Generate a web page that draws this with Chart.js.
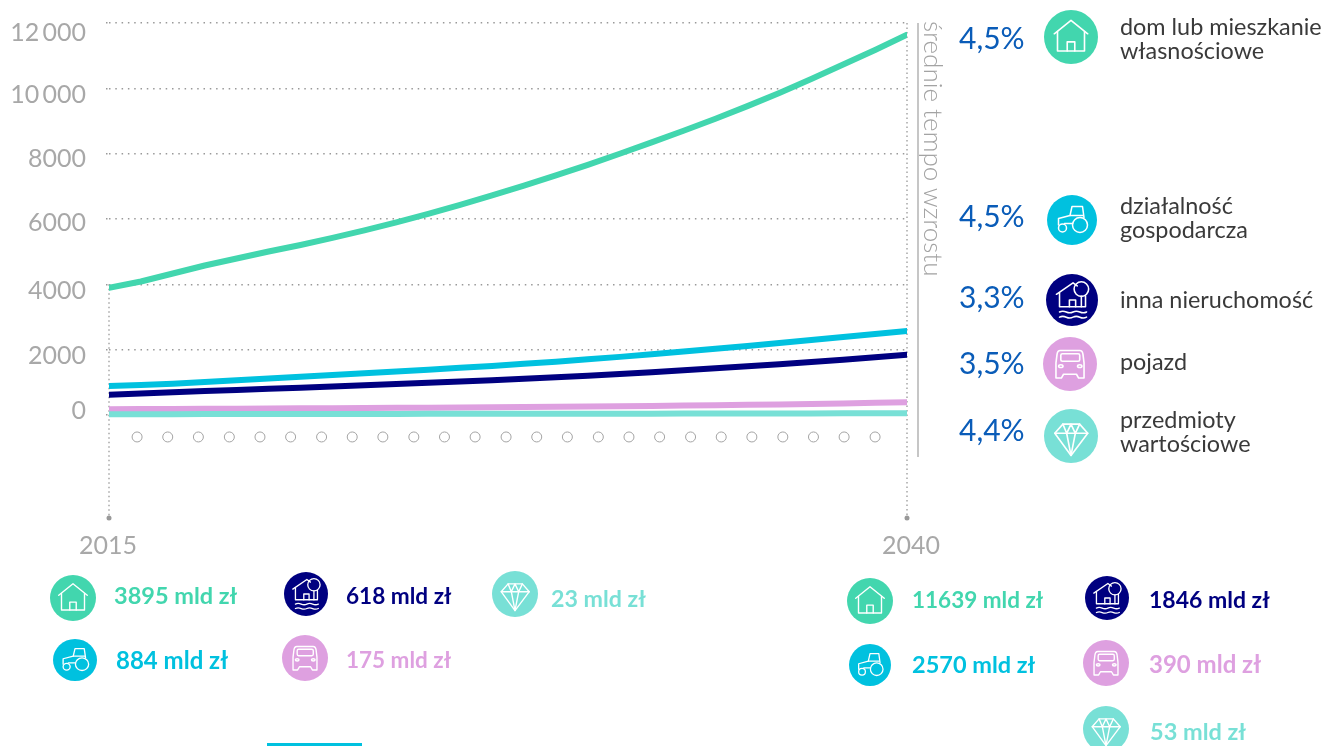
<!DOCTYPE html>
<html lang="pl">
<head>
<meta charset="utf-8">
<title>Aktywa</title>
<script src="https://cdn.jsdelivr.net/npm/chart.js@4"></script>
<style>
html, body { margin: 0; padding: 0; background: #fff; }
#page { position: relative; width: 1323px; height: 746px; overflow: hidden; font-family: Lato, sans-serif; }
#chart { position: absolute; left: 0; top: 0; }
.txt { position: absolute; white-space: nowrap; transform: translateY(-50%); }
.ico { position: absolute; }
.ico * { fill: none; stroke: #fff; stroke-width: 3; stroke-linejoin: round; stroke-linecap: round; }
.ico .disc { stroke: none; }
#bar { position: absolute; left: 917px; top: 23px; width: 2px; height: 434px; background: #c6c6c6; }
#tempo { position: absolute; left: 919px; top: 21px; writing-mode: vertical-rl; font-size: 26px; font-weight: 300; color: #a3a3a3; line-height: 30px; white-space: nowrap; }
#accent { position: absolute; left: 267px; top: 743px; width: 95px; height: 3px; background: #00c1df; }
</style>
</head>
<body>
<div id="page">
  <canvas id="chart" width="1323" height="746"></canvas>
  <div id="bar"></div>
  <div id="tempo">średnie tempo wzrostu</div>
  <div id="accent"></div>
</div>
<script>
var years = [2015,2016,2017,2018,2019,2020,2021,2022,2023,2024,2025,2026,2027,2028,2029,2030,2031,2032,2033,2034,2035,2036,2037,2038,2039,2040];
var domValues = [3895,4085,4331,4576,4790,5005,5204,5421,5650,5895,6156,6431,6719,7022,7334,7659,7996,8345,8700,9070,9455,9860,10285,10729,11173,11639];
var dzialalnoscValues = [884,915,958,1010,1063,1118,1172,1222,1274,1328,1384,1442,1502,1566,1632,1702,1778,1858,1940,2025,2112,2201,2292,2385,2477,2570];
var nieruchomoscValues = [618,655,692,730,766,800,835,872,909,947,986,1026,1066,1108,1154,1203,1255,1310,1368,1428,1490,1555,1620,1690,1765,1846];
var pojazdValues = [175,180,184,188,193,197,202,207,212,218,223,229,235,242,250,258,267,276,286,297,309,322,336,351,370,390];
var przedmiotyValues = [23,24,25,26,27,28,29,30,31,32,33,34,35,36,37,38,39,40,41,42,44,45,47,49,51,53];
var yTicks = [0,2000,4000,6000,8000,10000,12000];
var yTickLabels = ['0','2000','4000','6000','8000','10\u2009000','12\u2009000'];
var xTicks = [2015,2040];
var markerYears = [2015.88,2016.84,2017.80,2018.77,2019.73,2020.69,2021.66,2022.62,2023.58,2024.55,2025.51,2026.47,2027.44,2028.40,2029.36,2030.33,2031.29,2032.25,2033.22,2034.18,2035.14,2036.11,2037.07,2038.03,2039.00];
var markerLevel = -674;
var axisBottom = -3155;

var colors = { dom: '#42d6ae', dzial: '#00c1df', nier: '#000080', poj: '#dea0e0', przed: '#78e0d6' };

// tick labels in the original sit a little off their grid lines
var yLabelNudge = [-4,6,7,4,5,7,10];
var xLabelNudge = [-1,4];

function series(values, color, order) {
    return {
        data: values.map(function (v, i) { return { x: years[i], y: v }; }),
        borderColor: color,
        borderWidth: 6,
        borderCapStyle: 'round',
        borderJoinStyle: 'round',
        pointRadius: 0,
        tension: 0,
        order: order
    };
}

function rule(points) {
    return {
        data: points,
        borderColor: '#a6a6a6',
        backgroundColor: '#999',
        borderWidth: 1.5,
        borderDash: [1.5, 3],
        pointRadius: [0, 2.5],
        pointBorderWidth: 0,
        clip: false,
        order: 10
    };
}

var tickLabelsPlugin = {
    id: 'tickLabels',
    afterDraw: function (chart) {
        var ctx = chart.ctx, y = chart.scales.y, x = chart.scales.x;
        ctx.save();
        ctx.font = '400 25px Lato';
        ctx.fillStyle = '#a8a8a8';
        ctx.textBaseline = 'middle';
        ctx.textAlign = 'right';
        yTicks.forEach(function (v, i) {
            ctx.fillText(yTickLabels[i], 86, y.getPixelForValue(v) + yLabelNudge[i]);
        });
        ctx.textAlign = 'center';
        xTicks.forEach(function (v, i) {
            ctx.fillText(String(v), x.getPixelForValue(v) + xLabelNudge[i], y.bottom + 28);
        });
        ctx.restore();
    }
};

new Chart(document.getElementById('chart'), {
    type: 'line',
    data: {
        datasets: [
            series(przedmiotyValues, colors.przed, 0),
            series(pojazdValues, colors.poj, 1),
            series(nieruchomoscValues, colors.nier, 2),
            series(dzialalnoscValues, colors.dzial, 3),
            series(domValues, colors.dom, 4),
            rule([{ x: 2015, y: 4000 }, { x: 2015, y: axisBottom }]),
            rule([{ x: 2040, y: 12000 }, { x: 2040, y: axisBottom }]),
            {
                data: markerYears.map(function (x) { return { x: x, y: markerLevel }; }),
                showLine: false,
                pointRadius: 5,
                pointBorderWidth: 1,
                pointBorderColor: '#a3a3a3',
                pointBackgroundColor: '#fff',
                order: 5
            }
        ]
    },
    options: {
        responsive: false,
        animation: false,
        layout: { padding: { left: 109, right: 416, top: 23, bottom: 228 } },
        plugins: { legend: { display: false }, tooltip: { enabled: false } },
        scales: {
            x: {
                type: 'linear',
                min: 2015,
                max: 2040,
                border: { display: false },
                grid: { display: false },
                afterFit: function (s) { s.height = 0; },
                ticks: { display: false }
            },
            y: {
                min: axisBottom,
                max: 12000,
                border: { display: false, dash: [1.5, 4.8] },
                afterBuildTicks: function (s) { s.ticks = yTicks.map(function (v) { return { value: v }; }); },
                afterFit: function (s) { s.width = 0; },
                grid: {
                    color: '#999',
                    lineWidth: 1.5,
                    tickLength: 3,
                    tickColor: '#999',
                    tickWidth: 1.5,
                    tickBorderDash: [1.5, 4.8]
                },
                ticks: { display: false }
            }
        }
    },
    plugins: [tickLabelsPlugin]
});

// white line glyphs on the round badges
var glyphs = {
    dom: '<path d="M19,44 L50,19 L81,44"/><path d="M25,40 V76 H75 V40"/><path d="M43,76 V59 H57 V76"/>',
    dzial: '<circle cx="66" cy="60" r="15"/><circle cx="31" cy="66" r="8"/><path d="M23,60 V47 L46,41 L50,23 H71 L74,45"/><path d="M46,41 H72"/><path d="M35,57 H51"/>',
    nier: '<path d="M20,39 L52,17 L60,23"/><path d="M26,36 V63 H76 V42"/><path d="M45,63 V50 H57 V63"/><circle cx="68" cy="29" r="14"/><path d="M68,43 V63"/><path d="M26,73 q6,-3 13,0 t13,0 t13,0 t13,0"/><path d="M26,83 q6,-3 13,0 t13,0 t13,0 t13,0"/>',
    poj: '<path d="M32,25 H68 Q73,25 74,32 L76,48 V76 H66 L62,69 H38 L34,76 H24 V48 L26,32 Q27,25 32,25 Z"/><rect x="33" y="31" width="35" height="14" rx="3"/><ellipse cx="33" cy="54" rx="4" ry="2.5"/><ellipse cx="68" cy="54" rx="4" ry="2.5"/>',
    przed: '<path d="M35,28 H66 L81,45 L50,86 L20,45 Z"/><path d="M20,45 H81"/><path d="M35,28 L42,45 L50,28 L58,45 L66,28"/><path d="M42,45 L50,86 L58,45"/>'
};

var page = document.getElementById('page');

function badge(kind, cx, cy, rx, ry) {
    var html = '<svg class="ico" viewBox="0 0 100 100" preserveAspectRatio="none" style="left:' + (cx - rx) + 'px;top:' + (cy - ry) + 'px;width:' + (2 * rx) + 'px;height:' + (2 * ry) + 'px">' +
        '<circle class="disc" cx="50" cy="50" r="50" style="fill:' + colors[kind] + '"/>' + glyphs[kind] + '</svg>';
    page.insertAdjacentHTML('beforeend', html);
}

function text(str, x, y, size, color, weight) {
    var el = document.createElement('div');
    el.className = 'txt';
    el.textContent = str;
    el.style.cssText = 'left:' + x + 'px;top:' + y + 'px;font-size:' + size + 'px;color:' + color + ';font-weight:' + (weight || 400);
    page.appendChild(el);
}

// right hand legend
var rates = ['4,5%','4,5%','3,3%','3,5%','4,4%'];
var rateRows = [37,215,296,362,429];
rates.forEach(function (r, i) { text(r, 959, rateRows[i], 30, '#0a5cb8'); });

badge('dom', 1071, 37, 27, 27);
badge('dzial', 1072, 220, 25, 25);
badge('nier', 1072, 300, 26, 26);
badge('poj', 1070, 364, 27, 27);
badge('przed', 1071, 436, 27, 27);

var legendColor = '#3a3a3a';
text('dom lub mieszkanie', 1120, 26, 23.4, legendColor);
text('własnościowe', 1120, 50, 23.4, legendColor);
text('działalność', 1120, 205, 23.4, legendColor);
text('gospodarcza', 1120, 229, 23.4, legendColor);
text('inna nieruchomość', 1120, 299, 23.4, legendColor);
text('pojazd', 1120, 361, 23.4, legendColor);
text('przedmioty', 1120, 419, 23.4, legendColor);
text('wartościowe', 1120, 443, 23.4, legendColor);

// 2015 totals
badge('dom', 73, 598, 23, 23);
badge('nier', 306, 594, 22, 22);
badge('przed', 515, 594, 23, 23);
badge('dzial', 75, 660, 22, 21);
badge('poj', 305, 658, 23, 23);
text('3895 mld zł', 114, 595, 23.5, colors.dom, 700);
text('618 mld zł', 346, 595, 22.6, colors.nier, 700);
text('23 mld zł', 551, 598, 23.2, colors.przed, 700);
text('884 mld zł', 116, 659, 24, colors.dzial, 700);
text('175 mld zł', 346, 659, 22.5, colors.poj, 700);

// 2040 totals
badge('dom', 870, 601, 23, 23);
badge('nier', 1107, 598, 22, 22);
badge('dzial', 870, 665, 21, 21);
badge('poj', 1106, 663, 23, 23);
badge('przed', 1106, 729, 23, 23);
text('11639 mld zł', 912, 599, 22.5, colors.dom, 700);
text('1846 mld zł', 1149, 599, 23, colors.nier, 700);
text('2570 mld zł', 912, 664, 23.5, colors.dzial, 700);
text('390 mld zł', 1149, 663, 24, colors.poj, 700);
text('53 mld zł', 1150, 731, 23.5, colors.przed, 700);
</script>
</body>
</html>
